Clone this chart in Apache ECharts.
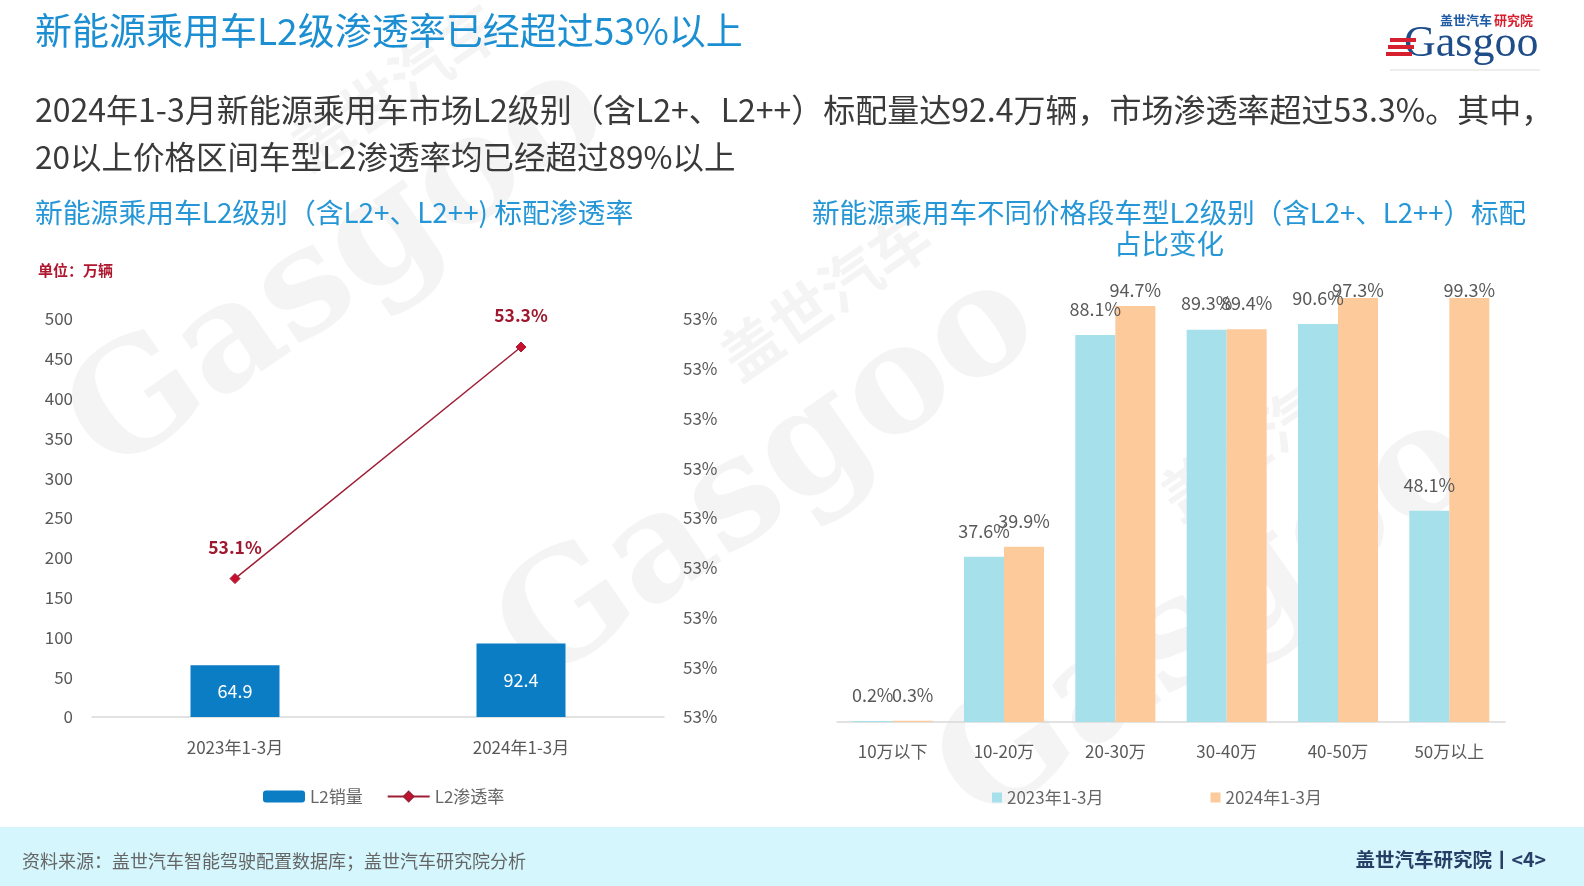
<!DOCTYPE html>
<html>
<head>
<meta charset="utf-8">
<style>
html,body{margin:0;padding:0;background:#ffffff;}
#chart{width:1584px;height:886px;}
</style>
<script src="https://cdn.jsdelivr.net/npm/echarts@6/dist/echarts.min.js"></script>
</head>
<body>
<div id="chart"></div>
<script>
// ---- data ----
const periods = ['2023年1-3月', '2024年1-3月'];
const l2Sales = [64.9, 92.4];          // 万辆
const l2Rate = [53.1, 53.3];           // %
const priceBands = ['10万以下', '10-20万', '20-30万', '30-40万', '40-50万', '50万以上'];
const share2023 = [0.2, 37.6, 88.1, 89.3, 90.6, 48.1];  // %
const share2024 = [0.3, 39.9, 94.7, 89.4, 97.3, 99.3];  // %
const salesTicks = [0, 50, 100, 150, 200, 250, 300, 350, 400, 450, 500];

const FONT = '"Noto Sans CJK SC", "Noto Sans", sans-serif';
const chart = echarts.init(document.getElementById('chart'), null, {renderer: 'canvas'});

function wm(x, y) {
  return {
    type: 'group', x: x, y: y, rotation: Math.PI / 5.2, z: -10, silent: true,
    children: [
      {type: 'text', style: {text: 'Gasgoo', x: 0, y: 0, font: 'bold 150px "DejaVu Serif", serif', fill: 'rgba(0,0,0,0.045)', align: 'center', verticalAlign: 'middle'}},
      {type: 'text', style: {text: '盖世汽车', x: 150, y: -120, font: 'bold 60px ' + FONT, fill: 'rgba(0,0,0,0.045)', align: 'center', verticalAlign: 'middle'}}
    ]
  };
}

// keep value labels of clipped (over-range) bars inside the drawing area
const clampTop = 281;
function clampLabel(p) {
  if (p.labelRect && p.labelRect.y < clampTop) {
    return {dy: clampTop - p.labelRect.y};
  }
  return {};
}

const option = {
  backgroundColor: '#ffffff',
  animation: false,
  textStyle: {fontFamily: FONT},
  graphic: [
    wm(340, 270), wm(770, 480), wm(1210, 620),
    // footer band
    {type: 'rect', shape: {x: 0, y: 827, width: 1584, height: 59}, style: {fill: '#d4f6fc'}, z: -20, silent: true},
    {type: 'text', style: {text: '资料来源：盖世汽车智能驾驶配置数据库；盖世汽车研究院分析', x: 22, y: 861, font: '18px ' + FONT, fill: '#666666', verticalAlign: 'middle'}},
    {type: 'text', style: {text: '盖世汽车研究院丨<4>', x: 1546, y: 860, font: 'bold 19.5px ' + FONT, fill: '#263f66', align: 'right', verticalAlign: 'middle'}},
    // titles
    {type: 'text', style: {text: '新能源乘用车L2级渗透率已经超过53%以上', x: 35, y: 31, font: '37px ' + FONT, fill: '#1b8fd2', verticalAlign: 'middle'}},
    {type: 'text', style: {text: '2024年1-3月新能源乘用车市场L2级别（含L2+、L2++）标配量达92.4万辆，市场渗透率超过53.3%。其中，', x: 35, y: 110, font: '32px ' + FONT, fill: '#3a3a3a', verticalAlign: 'middle'}},
    {type: 'text', style: {text: '20以上价格区间车型L2渗透率均已经超过89%以上', x: 35, y: 157, font: '31.5px ' + FONT, fill: '#3a3a3a', verticalAlign: 'middle'}},
    {type: 'text', style: {text: '新能源乘用车L2级别（含L2+、L2++) 标配渗透率', x: 35, y: 212, font: '27.8px ' + FONT, fill: '#2596d6', verticalAlign: 'middle'}},
    {type: 'text', style: {text: '新能源乘用车不同价格段车型L2级别（含L2+、L2++）标配\n占比变化', x: 1169, y: 228, font: '27.5px ' + FONT, lineHeight: 31, fill: '#2596d6', align: 'center', verticalAlign: 'middle'}},
    {type: 'text', style: {text: '单位：万辆', x: 38, y: 270, font: 'bold 15px ' + FONT, fill: '#b0172f', verticalAlign: 'middle'}},
    // logo
    {type: 'text', style: {text: '盖世汽车', x: 1440, y: 20, font: 'bold 13px ' + FONT, fill: '#1f5aa6', verticalAlign: 'middle'}},
    {type: 'text', style: {text: '研究院', x: 1494, y: 20, font: 'bold 13px ' + FONT, fill: '#d6202f', verticalAlign: 'middle'}},
    {type: 'text', style: {text: 'Gasgoo', x: 1404, y: 44, font: '44px "Liberation Serif", serif', fill: '#1e4d8a', verticalAlign: 'middle'}},
    {type: 'rect', shape: {x: 1390, y: 38, width: 26, height: 4}, style: {fill: '#d6202f'}},
    {type: 'rect', shape: {x: 1388, y: 45, width: 26, height: 4}, style: {fill: '#d6202f'}},
    {type: 'rect', shape: {x: 1386, y: 52, width: 26, height: 4}, style: {fill: '#d6202f'}},
    {type: 'line', shape: {x1: 1390, y1: 70, x2: 1540, y2: 70}, style: {stroke: '#dddddd', lineWidth: 1}}
  ],
  legend: [
    {
      data: ['L2销量', 'L2渗透率'], left: 258, top: 783,
      itemWidth: 42, itemHeight: 12, itemGap: 24,
      textStyle: {fontSize: 17, color: '#666666', fontFamily: FONT}
    },
    {
      data: ['2023年1-3月', '2024年1-3月'], left: 987, top: 784,
      icon: 'rect', itemWidth: 10, itemHeight: 10, itemGap: 107,
      textStyle: {fontSize: 17, color: '#666666', fontFamily: FONT}
    }
  ],
  grid: [
    {left: 92, top: 319, width: 572, height: 398},
    {left: 837, top: 298, width: 668, height: 424}
  ],
  xAxis: [
    {
      type: 'category', gridIndex: 0, data: periods,
      axisLine: {lineStyle: {color: '#d9d9d9', width: 1.5}}, axisTick: {show: false},
      axisLabel: {color: '#595959', fontSize: 17, margin: 22}
    },
    {
      type: 'category', gridIndex: 1, data: priceBands,
      axisLine: {lineStyle: {color: '#d9d9d9', width: 1.5}}, axisTick: {show: false},
      axisLabel: {color: '#595959', fontSize: 17, margin: 21}
    }
  ],
  yAxis: [
    {
      type: 'value', gridIndex: 0, min: salesTicks[0], max: salesTicks[salesTicks.length - 1], interval: salesTicks[1] - salesTicks[0],
      splitLine: {show: false}, axisLine: {show: false}, axisTick: {show: false},
      axisLabel: {color: '#595959', fontSize: 17, margin: 19}
    },
    {
      type: 'value', gridIndex: 0, position: 'right',
      min: 52.98046875, max: 53.32421875, interval: 0.04296875,
      splitLine: {show: false}, axisLine: {show: false}, axisTick: {show: false},
      axisLabel: {color: '#595959', fontSize: 17, margin: 19, formatter: v => Math.round(v) + '%'}
    },
    {
      type: 'value', gridIndex: 1, min: 0, max: 96.5, show: false
    }
  ],
  series: [
    {
      name: 'L2销量', type: 'bar', xAxisIndex: 0, yAxisIndex: 0, data: l2Sales,
      barWidth: 89, itemStyle: {color: '#0a7dc5'},
      label: {show: true, position: 'inside', color: '#ffffff', fontSize: 18}
    },
    {
      name: 'L2渗透率', type: 'line', xAxisIndex: 0, yAxisIndex: 1, data: l2Rate,
      symbol: 'diamond', symbolSize: 10,
      lineStyle: {color: '#9e1f35', width: 1.5}, itemStyle: {color: '#c8102e', borderColor: '#9e1f35', borderWidth: 1},
      label: {show: true, position: 'top', distance: 17, color: '#a0182f', fontSize: 17.5, fontWeight: 'bold', formatter: p => p.value.toFixed(1) + '%'}
    },
    {
      name: '2023年1-3月', type: 'bar', xAxisIndex: 1, yAxisIndex: 2, data: share2023,
      barWidth: 40, barGap: '0%', itemStyle: {color: '#a6e0ea'},
      label: {show: true, position: 'top', distance: 17, color: '#595959', fontSize: 18, formatter: p => p.value.toFixed(1) + '%'},
      labelLayout: clampLabel
    },
    {
      name: '2024年1-3月', type: 'bar', xAxisIndex: 1, yAxisIndex: 2, data: share2024,
      barWidth: 40, barGap: '0%', itemStyle: {color: '#fdca9c'},
      label: {show: true, position: 'top', distance: 17, color: '#595959', fontSize: 18, formatter: p => p.value.toFixed(1) + '%'},
      labelLayout: clampLabel
    }
  ]
};
chart.setOption(option);
</script>
</body>
</html>
